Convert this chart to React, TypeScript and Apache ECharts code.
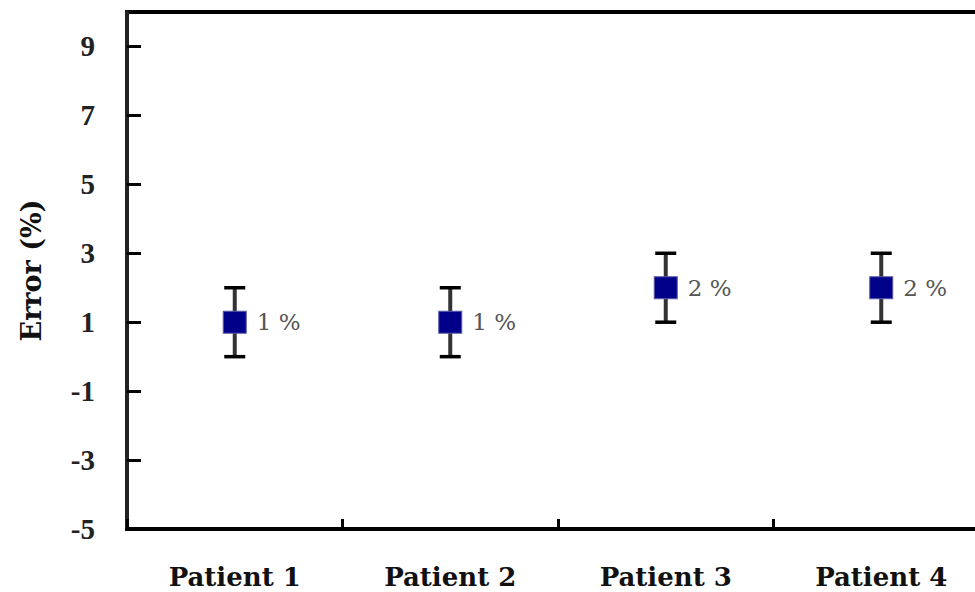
import React, { useEffect, useRef } from "react";
import * as echarts from "echarts";

const patients = ["Patient 1", "Patient 2", "Patient 3", "Patient 4"];
const meanError = [1, 1, 2, 2];
const lowError = [0, 0, 1, 1];
const highError = [2, 2, 3, 3];
const pointLabels = ["1 %", "1 %", "2 %", "2 %"];
const yTicks = [-5, -3, -1, 1, 3, 5, 7, 9];
const yMin = -5;
const yMax = 10;

const FONT = "Liberation Serif, Times New Roman, serif";
const WIDE = "DejaVu Serif, Liberation Serif, serif";

export default function App() {
  const ref = useRef<HTMLDivElement>(null);
  useEffect(() => {
    if (!ref.current) return;
    const chart = echarts.init(ref.current, null, { renderer: "svg" });
    const errData = patients.map((_, i) => [i, lowError[i], highError[i]]);
    chart.setOption({
      animation: false,
      backgroundColor: "#ffffff",
      textStyle: { fontFamily: FONT },
      grid: {
        left: 127,
        top: 12,
        width: 862,
        height: 517,
        containLabel: false,
        outerBoundsMode: "none",
        show: true,
        borderColor: "#000",
        borderWidth: 4,
        backgroundColor: "transparent",
      },
      xAxis: {
        type: "category",
        data: patients,
        boundaryGap: true,
        axisLine: { show: true, onZero: false, lineStyle: { color: "#000", width: 4 } },
        axisTick: { show: true, inside: true, length: 10, lineStyle: { color: "#000", width: 3 } },
        axisLabel: {
          margin: 35,
          fontFamily: WIDE,
          fontWeight: "bold",
          fontSize: 26,
          lineHeight: 26,
          color: "#111",
        },
        splitLine: { show: false },
      },
      yAxis: {
        type: "value",
        min: yMin,
        max: yMax,
        name: "Error (%)",
        nameLocation: "middle",
        nameGap: 82,
        nameRotate: 90,
        nameTextStyle: { fontFamily: WIDE, fontWeight: "bold", fontSize: 27, color: "#111" },
        axisLine: { show: true, onZero: false, lineStyle: { color: "#222", width: 4 } },
        axisTick: {
          show: true,
          inside: true,
          length: 14,
          lineStyle: { color: "#000", width: 3 },
          customValues: yTicks,
        },
        axisLabel: {
          margin: 32,
          fontFamily: FONT,
          fontWeight: "bold",
          fontSize: 29,
          color: "#222",
          customValues: yTicks,
        },
        splitLine: { show: false },
      },
      series: [
        {
          type: "custom",
          data: errData,
          z: 2,
          renderItem: (params: any, api: any) => {
            const x = api.value(0);
            const lo = api.coord([x, api.value(1)]);
            const hi = api.coord([x, api.value(2)]);
            const cap = 10.5;
            return {
              type: "group",
              children: [
                {
                  type: "line",
                  shape: { x1: lo[0], y1: lo[1], x2: hi[0], y2: hi[1] },
                  style: { stroke: "#333", lineWidth: 4 },
                },
                {
                  type: "line",
                  shape: { x1: lo[0] - cap, y1: lo[1], x2: lo[0] + cap, y2: lo[1] },
                  style: { stroke: "#000", lineWidth: 3.5 },
                },
                {
                  type: "line",
                  shape: { x1: hi[0] - cap, y1: hi[1], x2: hi[0] + cap, y2: hi[1] },
                  style: { stroke: "#000", lineWidth: 3.5 },
                },
              ],
            };
          },
        },
        {
          type: "scatter",
          data: meanError,
          symbol: "rect",
          symbolSize: [23, 22],
          z: 3,
          itemStyle: { color: "#000088", borderColor: "#5a5aa8", borderWidth: 1, opacity: 1 },
          label: {
            show: true,
            position: "right",
            distance: 10,
            formatter: (p: any) => pointLabels[p.dataIndex],
            fontFamily: WIDE,
            fontSize: 23,
            color: "#555",
          },
        },
      ],
    });
    return () => chart.dispose();
  }, []);
  return (
    <div
      ref={ref}
      style={{ position: "absolute", left: 0, top: 0, width: 975, height: 592, background: "#fff" }}
    />
  );
}
